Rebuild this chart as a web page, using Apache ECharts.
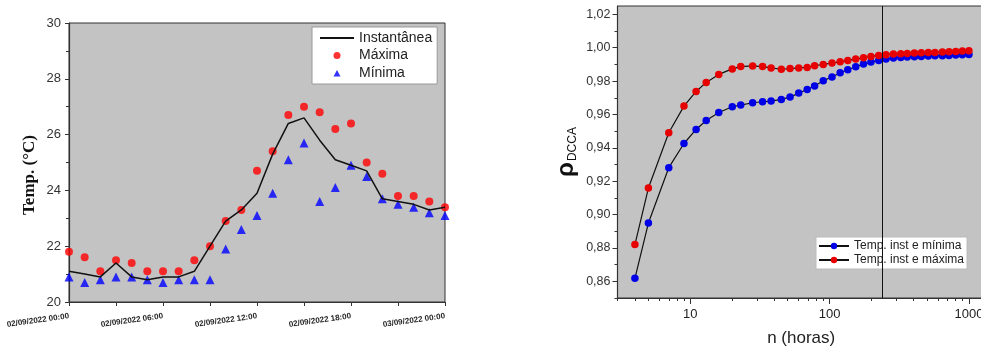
<!DOCTYPE html>
<html>
<head>
<meta charset="utf-8">
<script src="https://cdn.jsdelivr.net/npm/echarts@6/dist/echarts.min.js"></script>
<style>
  html, body { margin: 0; padding: 0; background: #fff; }
  #chart { width: 981px; height: 347px; }
</style>
</head>
<body>
<div id="chart"></div>
<script>
// painel esquerdo: temperatura horaria
const horas = [0, 1, 2, 3, 4, 5, 6, 7, 8, 9, 10, 11, 12, 13, 14, 15, 16, 17, 18, 19, 20, 21, 22, 23, 24]
const horaLabels = ['02/09/2022 00:00', '02/09/2022 06:00', '02/09/2022 12:00', '02/09/2022 18:00', '03/09/2022 00:00']
const instantanea = [21.1, 21.0, 20.9, 21.4, 20.9, 20.8, 20.9, 20.9, 21.1, 22.0, 22.9, 23.3, 23.9, 25.3, 26.4, 26.6, 25.8, 25.1, 24.9, 24.7, 23.7, 23.6, 23.5, 23.3, 23.4]
const maxima = [21.8, 21.6, 21.1, 21.5, 21.4, 21.1, 21.1, 21.1, 21.5, 22.0, 22.9, 23.3, 24.7, 25.4, 26.7, 27.0, 26.8, 26.2, 26.4, 25.0, 24.6, 23.8, 23.8, 23.6, 23.4]
const minima = [20.9, 20.7, 20.8, 20.9, 20.9, 20.8, 20.7, 20.8, 20.8, 20.8, 21.9, 22.6, 23.1, 23.9, 25.1, 25.7, 23.6, 24.1, 24.9, 24.5, 23.7, 23.5, 23.4, 23.2, 23.1]

// painel direito: rho DCCA x n (horas)
const nHoras = [4, 5, 7, 9, 11, 13, 16, 20, 23, 28, 33, 38, 45, 52, 60, 69, 78, 90, 104, 119, 135, 154, 175, 198, 225, 254, 287, 324, 361, 406, 455, 511, 571, 645, 720, 804, 897, 1000]
const rhoMin = [0.8618, 0.8949, 0.9281, 0.9426, 0.9510, 0.9564, 0.9612, 0.9646, 0.9656, 0.9670, 0.9676, 0.9680, 0.9690, 0.9704, 0.9728, 0.9750, 0.9771, 0.9802, 0.9825, 0.9850, 0.9868, 0.9886, 0.9902, 0.9914, 0.9924, 0.9932, 0.9938, 0.9942, 0.9944, 0.9946, 0.9948, 0.9950, 0.9952, 0.9952, 0.9954, 0.9956, 0.9958, 0.9960]
const rhoMax = [0.8820, 0.9159, 0.9490, 0.9650, 0.9738, 0.9792, 0.9840, 0.9873, 0.9887, 0.9891, 0.9887, 0.9879, 0.9871, 0.9875, 0.9879, 0.9882, 0.9892, 0.9900, 0.9908, 0.9916, 0.9924, 0.9932, 0.9940, 0.9948, 0.9954, 0.9958, 0.9962, 0.9964, 0.9966, 0.9968, 0.9970, 0.9971, 0.9972, 0.9974, 0.9976, 0.9978, 0.9980, 0.9982]
const rhoTicks = [0.86, 0.88, 0.90, 0.92, 0.94, 0.96, 0.98, 1.00, 1.02]
const rhoMinorTicks = [0.85, 0.87, 0.89, 0.91, 0.93, 0.95, 0.97, 0.99, 1.01]
const nTicks = [10, 100, 1000]
const nMinorTicks = [3, 4, 5, 6, 7, 8, 9, 20, 30, 40, 50, 60, 70, 80, 90, 200, 300, 400, 500, 600, 700, 800, 900]
const nCorte = 240

const axisColor = '#333'
const plotBg = '#c3c3c3'
const sans = 'Liberation Sans, Arial'
// triangulo pequeno no meio de uma caixa 34x7, para nao esticar no legend
const triLegend = 'path://M0,0M34,0M34,7M0,7M13.5,7L17,0.5L20.5,7Z'

const chart = echarts.init(document.getElementById('chart'))

const options = {
    backgroundColor: '#fff',
    animation: false,
    grid: [
        { left: 69, top: 23, width: 376, height: 279, show: true, backgroundColor: plotBg, borderColor: axisColor, borderWidth: 1, outerBoundsMode: 'none' },
        { left: 617.5, top: 6, width: 367.3, height: 292, show: true, backgroundColor: plotBg, borderColor: axisColor, borderWidth: 1, outerBoundsMode: 'none' },
    ],
    legend: [
        {
            orient: 'vertical',
            left: 312, top: 27,
            itemWidth: 34, itemHeight: 7, itemGap: 1.5,
            padding: [3, 5, 3, 7],
            symbolKeepAspect: true,
            backgroundColor: '#fff', borderColor: '#999', borderWidth: 1, borderRadius: 0,
            textStyle: { fontFamily: sans, fontSize: 14, color: '#222', padding: [0, 0, 0, 0], lineHeight: 16 },
            data: [
                { name: 'Instantânea', itemStyle: { opacity: 0 } },
                { name: 'Máxima' },
                { name: 'Mínima', icon: triLegend },
            ],
        },
        {
            orient: 'vertical',
            left: 816, top: 237,
            itemWidth: 30, itemHeight: 8, itemGap: 2,
            padding: [3, 3, 3, 2],
            backgroundColor: '#fff', borderColor: '#bbb', borderWidth: 1, borderRadius: 0,
            textStyle: { fontFamily: sans, fontSize: 12, color: '#222', padding: [0, 0, 0, 0] },
            data: ['Temp. inst e mínima', 'Temp. inst e máxima'],
        },
    ],
    xAxis: [
        {
            type: 'value', gridIndex: 0, min: 0, max: 24, interval: 3,
            axisLine: { lineStyle: { color: axisColor, width: 1.2 } },
            axisTick: { inside: false, length: 4, lineStyle: { color: axisColor } },
            splitLine: { show: false },
            axisLabel: {
                rotate: 8, margin: 14,
                fontFamily: sans, fontSize: 8, fontWeight: 'bold', color: '#222',
                formatter: v => (v % 6 === 0 ? horaLabels[v / 6] : ''),
            },
        },
        {
            type: 'log', gridIndex: 1, min: 3, max: 1300, logBase: 10, position: 'bottom',
            name: 'n (horas)', nameLocation: 'middle', nameGap: 32,
            nameTextStyle: { fontFamily: sans, fontSize: 17, color: '#222' },
            axisLine: { lineStyle: { color: axisColor, width: 1.2 } },
            axisTick: { inside: false, length: 6, customValues: nTicks, lineStyle: { color: axisColor } },
            splitLine: { show: false },
            axisLabel: {
                margin: 10, customValues: nTicks,
                fontFamily: sans, fontSize: 13, color: '#222',
                formatter: v => String(Math.round(v)),
            },
        },
        {
            type: 'log', gridIndex: 1, min: 3, max: 1300, logBase: 10, position: 'bottom',
            axisLine: { show: false },
            axisTick: { inside: false, length: 3, customValues: nMinorTicks, lineStyle: { color: axisColor } },
            splitLine: { show: false },
            axisLabel: { show: false },
        },
    ],
    yAxis: [
        {
            type: 'value', gridIndex: 0, min: 20, max: 30, interval: 2,
            name: '{a|Temp. (°C)}', nameLocation: 'middle', nameGap: 31, nameRotate: 90,
            nameTextStyle: { rich: { a: { fontFamily: 'Liberation Serif, Times New Roman', fontSize: 17, fontWeight: 'bold', color: '#111', padding: [0, 25, 0, 0] } } },
            axisLine: { lineStyle: { color: axisColor, width: 1.2 } },
            axisTick: { inside: false, length: 4, lineStyle: { color: axisColor } },
            minorTick: { show: true, splitNumber: 2, length: 3, lineStyle: { color: axisColor } },
            splitLine: { show: false },
            minorSplitLine: { show: false },
            axisLabel: { margin: 8, fontFamily: sans, fontSize: 13, color: '#333' },
        },
        {
            type: 'value', gridIndex: 1, min: 0.85, max: 1.025, position: 'left',
            name: '{r|ρ}{s|DCCA}', nameLocation: 'middle', nameGap: 39, nameRotate: 90,
            nameTextStyle: {
                rich: {
                    r: { fontFamily: sans, fontSize: 24, fontWeight: 'bold', color: '#111', lineHeight: 24, verticalAlign: 'bottom' },
                    s: { fontFamily: sans, fontSize: 12, color: '#111', lineHeight: 24, verticalAlign: 'bottom', padding: [0, 0, 0, 1] },
                },
            },
            axisLine: { lineStyle: { color: axisColor, width: 1.2 } },
            axisTick: { inside: false, length: 5, customValues: rhoTicks, lineStyle: { color: axisColor } },
            splitLine: { show: false },
            axisLabel: {
                margin: 7, customValues: rhoTicks,
                fontFamily: sans, fontSize: 12.5, color: '#333',
                formatter: v => v.toFixed(2).replace('.', ','),
            },
        },
        {
            type: 'value', gridIndex: 1, min: 0.85, max: 1.025, position: 'left',
            axisLine: { show: false },
            axisTick: { inside: false, length: 3, customValues: rhoMinorTicks, lineStyle: { color: axisColor } },
            splitLine: { show: false },
            axisLabel: { show: false },
        },
    ],
    series: [
        {
            name: 'Instantânea', type: 'line', xAxisIndex: 0, yAxisIndex: 0,
            data: horas.map((h, i) => [h, instantanea[i]]),
            symbol: 'none', lineStyle: { color: '#111', width: 1.5 }, itemStyle: { color: '#111' },
        },
        {
            name: 'Máxima', type: 'scatter', xAxisIndex: 0, yAxisIndex: 0,
            data: horas.map((h, i) => [h, maxima[i]]),
            symbol: 'circle', symbolSize: 8, itemStyle: { color: '#ff0000' },
        },
        {
            name: 'Mínima', type: 'scatter', xAxisIndex: 0, yAxisIndex: 0,
            data: horas.map((h, i) => [h, minima[i]]),
            symbol: 'triangle', symbolSize: 9, symbolKeepAspect: true, itemStyle: { color: '#0000ff' },
        },
        {
            name: 'Temp. inst e mínima', type: 'line', xAxisIndex: 1, yAxisIndex: 1,
            data: nHoras.map((n, i) => [n, rhoMin[i]]),
            symbol: 'circle', symbolSize: 7.5, showAllSymbol: true,
            lineStyle: { color: '#111', width: 1.2 }, itemStyle: { color: '#0000e6' },
            markLine: {
                silent: true, symbol: ['none', 'none'], label: { show: false },
                lineStyle: { color: '#111', width: 1, type: 'solid' },
                data: [{ xAxis: nCorte }],
            },
        },
        {
            name: 'Temp. inst e máxima', type: 'line', xAxisIndex: 1, yAxisIndex: 1,
            data: nHoras.map((n, i) => [n, rhoMax[i]]),
            symbol: 'circle', symbolSize: 7.5, showAllSymbol: true,
            lineStyle: { color: '#111', width: 1.2 }, itemStyle: { color: '#e60000' },
        },
    ],
}

chart.setOption(options)
</script>
</body>
</html>
